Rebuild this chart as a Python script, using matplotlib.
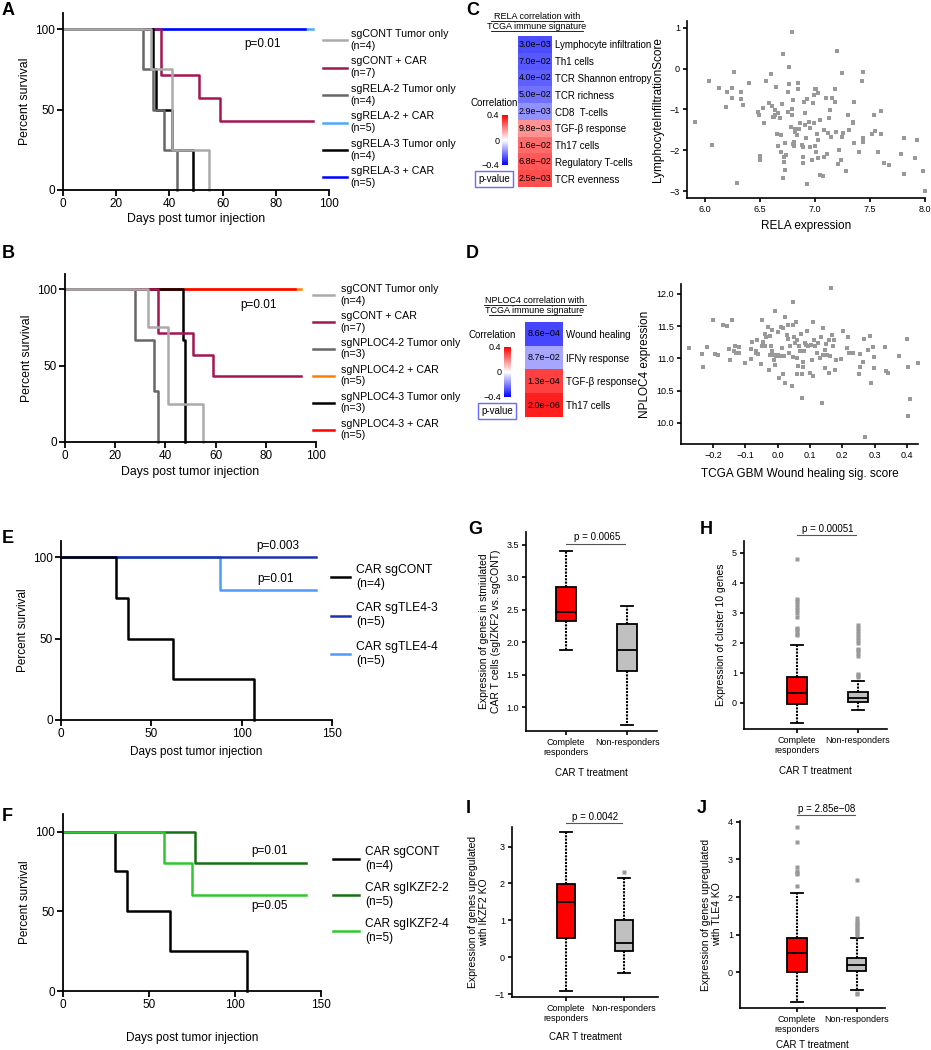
import matplotlib
matplotlib.use('Agg')
import matplotlib.pyplot as plt
from matplotlib.lines import Line2D
import numpy as np

plt.rcParams['font.family'] = ['Liberation Sans', 'DejaVu Sans']

# ---------------- survival data (days, percent survival) ----------------
A_labels = ['sgCONT Tumor only\n(n=4)', 'sgCONT + CAR\n(n=7)', 'sgRELA-2 Tumor only\n(n=4)',
            'sgRELA-2 + CAR\n(n=5)', 'sgRELA-3 Tumor only\n(n=4)', 'sgRELA-3 + CAR\n(n=5)']
A_cont_t = [0, 33, 41, 55];          A_cont_s = [100, 75, 25, 0]
A_contcar_t = [0, 37, 51, 59, 94];   A_contcar_s = [100, 71.4, 57.1, 42.9, 42.9]
A_rela2_t = [0, 30, 34, 38, 43];     A_rela2_s = [100, 75, 50, 25, 0]
A_rela2car_t = [0, 94];              A_rela2car_s = [100, 100]
A_rela3_t = [0, 34, 35, 41, 49];     A_rela3_s = [100, 75, 50, 25, 0]
A_rela3car_t = [0, 91];              A_rela3car_s = [100, 100]

B_labels = ['sgCONT Tumor only\n(n=4)', 'sgCONT + CAR\n(n=7)', 'sgNPLOC4-2 Tumor only\n(n=3)',
            'sgNPLOC4-2 + CAR\n(n=5)', 'sgNPLOC4-3 Tumor only\n(n=3)', 'sgNPLOC4-3 + CAR\n(n=5)']
B_cont_t = [0, 33, 41, 55];          B_cont_s = [100, 75, 25, 0]
B_contcar_t = [0, 37, 51, 59, 94];   B_contcar_s = [100, 71.4, 57.1, 42.9, 42.9]
B_np2_t = [0, 28, 35.5, 37];         B_np2_s = [100, 66.7, 33.3, 0]
B_np2car_t = [0, 94];                B_np2car_s = [100, 100]
B_np3_t = [0, 47, 48];               B_np3_s = [100, 66.7, 0]
B_np3car_t = [0, 91.5];              B_np3car_s = [100, 100]

E_labels = ['CAR sgCONT\n(n=4)', 'CAR sgTLE4-3\n(n=5)', 'CAR sgTLE4-4\n(n=5)']
E_cont_t = [0, 30.5, 37, 62, 107];   E_cont_s = [100, 75, 50, 25, 0]
E_tle3_t = [0, 141];                 E_tle3_s = [100, 100]
E_tle4_t = [0, 88, 141];             E_tle4_s = [100, 80, 80]

F_labels = ['CAR sgCONT\n(n=4)', 'CAR sgIKZF2-2\n(n=5)', 'CAR sgIKZF2-4\n(n=5)']
F_cont_t = [0, 30, 37, 62, 107];     F_cont_s = [100, 75, 50, 25, 0]
F_ik2_t = [0, 77, 141];              F_ik2_s = [100, 80, 80]
F_ik4_t = [0, 59, 75, 141];          F_ik4_s = [100, 80, 60, 60]

# ---------------- heatmap data ----------------
C_sigs = ['Lymphocyte infiltration', 'Th1 cells', 'TCR Shannon entropy', 'TCR richness', 'CD8  T-cells',
          'TGF-β response', 'Th17 cells', 'Regulatory T-cells', 'TCR evenness']
C_corr = [-0.28, -0.26, -0.25, -0.22, -0.17, 0.17, 0.23, 0.26, 0.28]
C_pval = ['3.0e−03', '7.0e−02', '4.0e−02', '5.0e−02', '2.9e−03', '9.8e−03', '1.6e−02', '6.8e−02', '2.5e−03']

D_sigs = ['Wound healing', 'IFNγ response', 'TGF-β response', 'Th17 cells']
D_corr = [-0.29, -0.14, 0.30, 0.35]
D_pval = ['8.6e−04', '8.7e−02', '1.3e−04', '2.0e−06']

# ---------------- scatter data ----------------
C_x = [5.91, 6.04, 6.07, 6.13, 6.20, 6.25, 6.25, 6.27, 6.19, 6.33, 6.33, 6.35, 6.29, 6.40, 6.48, 6.49, 6.50,
       6.50, 6.53, 6.54, 6.56, 6.58, 6.60, 6.61, 6.62, 6.63, 6.64, 6.64, 6.65, 6.66, 6.67, 6.68, 6.69, 6.67,
       6.70, 6.71, 6.72, 6.72, 6.73, 6.74, 6.73, 6.71, 6.69, 6.76, 6.76, 6.77, 6.77, 6.78, 6.79, 6.79, 6.79,
       6.80, 6.80, 6.81, 6.81, 6.82, 6.84, 6.85, 6.85, 6.86, 6.87, 6.88, 6.89, 6.89, 6.89, 6.90, 6.91, 6.91,
       6.92, 6.93, 6.93, 6.95, 6.96, 6.96, 6.97, 6.98, 6.99, 6.99, 7.00, 7.00, 7.01, 7.01, 7.02, 7.03, 7.03,
       7.03, 7.05, 7.05, 7.07, 7.08, 7.08, 7.10, 7.11, 7.12, 7.13, 7.14, 7.15, 7.16, 7.18, 7.18, 7.19, 7.20,
       7.21, 7.22, 7.24, 7.25, 7.25, 7.26, 7.28, 7.30, 7.31, 7.35, 7.35, 7.36, 7.36, 7.40, 7.43, 7.44, 7.44,
       7.44, 7.52, 7.54, 7.55, 7.57, 7.60, 7.60, 7.63, 7.67, 7.78, 7.81, 7.81, 7.93, 7.91, 7.98, 8.00, 6.82]
C_y = [-1.30, -0.29, -1.87, -0.48, -0.56, -0.48, -0.71, -0.09, -0.93, -0.56, -0.75, -0.89, -2.80, -0.34,
       -1.05, -1.14, -2.15, -2.23, -0.97, -1.34, -0.30, -0.83, -0.13, -0.91, -1.18, -1.19, -1.01, -1.13,
       -0.44, -1.59, -1.09, -1.20, -1.63, -1.89, -0.86, 0.36, -2.29, -2.16, -1.83, -2.12, -2.49, -2.67,
       -2.04, -0.56, -1.05, 0.04, -0.37, -1.42, 0.91, -0.99, -1.14, -0.77, -1.85, -1.90, -1.79, -1.55,
       -1.63, -0.36, -0.50, -1.49, -1.34, -1.87, -1.93, -2.16, -2.31, -0.81, -1.09, -1.38, -1.71, -2.82,
       -0.75, -1.30, -1.46, -1.92, -2.23, -0.83, -1.32, -0.64, -0.50, -1.90, -0.50, -2.04, -1.59, -0.60,
       -2.20, -1.75, -2.61, -1.26, -2.64, -2.16, -1.51, -0.72, -2.08, -1.58, -1.22, -1.01, -1.68, -0.72,
       -0.81, -0.50, -1.55, 0.43, -2.34, -1.99, -2.23, -1.68, -0.11, -1.58, -2.51, -1.14, -1.51, -1.30,
       -1.34, -0.81, -1.83, -2.04, -0.30, -0.07, -1.69, -1.79, -1.61, -1.14, -1.53, -2.04, -1.03, -1.59,
       -2.31, -2.37, -2.08, -1.71, -2.57, -1.76, -2.20, -2.52, -3.00, -1.49]

D_x = [-0.274, -0.234, -0.231, -0.218, -0.200, -0.195, -0.184, -0.169, -0.157, -0.151, -0.146, -0.140,
       -0.136, -0.131, -0.128, -0.119, -0.119, -0.102, -0.084, -0.081, -0.078, -0.068, -0.066, -0.064,
       -0.060, -0.053, -0.050, -0.047, -0.045, -0.040, -0.039, -0.035, -0.029, -0.026, -0.024, -0.024,
       -0.022, -0.019, -0.017, -0.012, -0.010, -0.009, -0.007, -0.006, 0.000, 0.000, 0.005, 0.007, 0.009,
       0.012, 0.015, 0.017, 0.019, 0.022, 0.024, 0.028, 0.031, 0.031, 0.035, 0.038, 0.043, 0.046, 0.046,
       0.048, 0.050, 0.053, 0.056, 0.059, 0.059, 0.061, 0.064, 0.067, 0.069, 0.072, 0.074, 0.074, 0.077,
       0.079, 0.081, 0.084, 0.087, 0.090, 0.095, 0.100, 0.102, 0.105, 0.108, 0.110, 0.112, 0.116, 0.121,
       0.126, 0.131, 0.134, 0.136, 0.139, 0.141, 0.147, 0.147, 0.150, 0.154, 0.158, 0.160, 0.162, 0.165,
       0.167, 0.170, 0.174, 0.178, 0.181, 0.195, 0.201, 0.215, 0.219, 0.222, 0.234, 0.253, 0.255, 0.255,
       0.263, 0.268, 0.271, 0.278, 0.285, 0.288, 0.294, 0.299, 0.299, 0.333, 0.336, 0.340, 0.374, 0.400,
       0.402, 0.403, 0.410, 0.433]
D_y = [11.16, 11.07, 10.87, 11.17, 11.59, 11.07, 11.05, 11.52, 11.51, 11.14, 10.97, 11.60, 11.12, 11.19,
       11.09, 11.18, 11.08, 10.93, 11.15, 10.99, 11.25, 11.12, 11.08, 11.29, 11.07, 10.92, 11.19, 11.59,
       11.26, 11.19, 11.38, 11.33, 11.49, 10.82, 11.06, 11.34, 11.19, 11.12, 11.44, 10.98, 11.06, 10.90,
       11.74, 11.03, 11.41, 11.06, 10.69, 11.03, 11.48, 11.16, 10.75, 11.47, 11.04, 11.65, 10.61, 11.37,
       11.52, 11.30, 11.08, 11.19, 10.57, 11.52, 11.87, 11.02, 11.33, 11.24, 11.57, 11.01, 10.76, 11.29,
       10.88, 11.19, 11.12, 11.38, 10.39, 10.76, 10.95, 10.86, 11.12, 11.24, 11.21, 11.42, 11.19, 10.78,
       11.20, 10.98, 11.56, 10.72, 11.29, 11.19, 11.08, 11.24, 11.01, 11.33, 10.30, 11.47, 11.06, 10.85,
       11.13, 11.23, 11.06, 10.78, 11.28, 11.04, 12.10, 11.37, 11.19, 11.28, 10.82, 10.98, 10.99, 11.43,
       11.16, 11.33, 11.09, 11.09, 10.76, 11.07, 10.86, 10.95, 11.30, 9.78, 11.13, 11.35, 10.61, 11.17,
       11.02, 10.85, 11.17, 10.80, 10.78, 11.03, 11.30, 10.86, 10.10, 10.37, 10.93]

# ---------------- box plot summaries ----------------
groups = ['Complete\nresponders', 'Non-responders']
G_stats = [dict(whislo=1.88, q1=2.33, med=2.47, q3=2.85, whishi=3.40, fliers=[]),
           dict(whislo=0.73, q1=1.55, med=1.88, q3=2.28, whishi=2.56, fliers=[])]
H_stats = [dict(whislo=-0.68, q1=-0.02, med=0.33, q3=0.88, whishi=1.93,
                fliers=[2.25, 2.3, 2.4, 2.45, 2.5, 2.85, 3.0, 3.1, 3.2, 3.3, 3.4, 3.45, 4.8]),
           dict(whislo=-0.23, q1=0.03, med=0.18, q3=0.35, whishi=0.73,
                fliers=[0.88, 0.92, 0.95, 1.55, 1.65, 1.75, 1.8, 2.0, 2.1, 2.2, 2.3, 2.4, 2.5, 2.6])]
I_stats = [dict(whislo=-0.93, q1=0.52, med=1.50, q3=1.98, whishi=3.40, fliers=[]),
           dict(whislo=-0.43, q1=0.17, med=0.38, q3=1.00, whishi=2.15, fliers=[2.3])]
J_stats = [dict(whislo=-0.80, q1=0.02, med=0.50, q3=0.92, whishi=2.10,
                fliers=[2.3, 2.6, 2.65, 2.7, 2.8, 3.45, 3.85]),
           dict(whislo=-0.48, q1=0.03, med=0.20, q3=0.38, whishi=0.90,
                fliers=[1.0, 1.05, 1.1, 1.15, 1.2, 1.25, 1.3, 1.35, 1.45, 2.45, -0.55, -0.58])]

W, H = 931, 1050
fig = plt.figure(figsize=(W / 100, H / 100), dpi=100)


def fx(x):
    return x / W


def fy(y):
    return 1 - y / H


def add_ax(l, t, r, b):
    return fig.add_axes([l / W, 1 - b / H, (r - l) / W, (b - t) / H])


def prism(ax, lw=1.3, fs=8.5):
    ax.spines[['top', 'right']].set_visible(False)
    ax.spines['left'].set_linewidth(lw)
    ax.spines['bottom'].set_linewidth(lw)
    ax.tick_params(width=lw, length=4, labelsize=fs, pad=2)


def surv(ax, t, s, c, lab):
    ax.step(t, s, where='post', color=c, lw=1.8, clip_on=False, label=lab)


# ---------------- A ----------------
ax = add_ax(63, 13, 329, 190)
surv(ax, A_rela2car_t, A_rela2car_s, '#4fa8ff', A_labels[3])
surv(ax, A_rela3car_t, A_rela3car_s, '#0000ff', A_labels[5])
surv(ax, A_contcar_t, A_contcar_s, '#a31553', A_labels[1])
surv(ax, A_rela3_t, A_rela3_s, '#000000', A_labels[4])
surv(ax, A_rela2_t, A_rela2_s, '#666666', A_labels[2])
surv(ax, A_cont_t, A_cont_s, '#aaaaaa', A_labels[0])
ax.set_xlim(0, 100); ax.set_ylim(0, 110)
ax.set_xticks([0, 20, 40, 60, 80, 100]); ax.set_yticks([0, 50, 100])
prism(ax)
ax.set_ylabel('Percent survival', fontsize=8.8, labelpad=3)
ax.set_xlabel('Days post tumor injection', fontsize=8.8, labelpad=2)
ax.text(75, 91, 'p=0.01', fontsize=8.5, ha='center', va='center')
h, l = ax.get_legend_handles_labels()
hs = [h[l.index(x)] for x in A_labels]
fig.legend(hs, A_labels, loc='upper left', bbox_to_anchor=(fx(323), fy(29)), frameon=False, fontsize=7.7,
           handlelength=2.2, handletextpad=0.4, labelspacing=0.55, borderpad=0, borderaxespad=0)

# ---------------- B ----------------
ax = add_ax(65, 274, 316, 442)
surv(ax, B_np2car_t, B_np2car_s, '#ff8000', B_labels[3])
surv(ax, B_np3car_t, B_np3car_s, '#ff0000', B_labels[5])
surv(ax, B_np3_t, B_np3_s, '#000000', B_labels[4])
surv(ax, B_contcar_t, B_contcar_s, '#a31553', B_labels[1])
surv(ax, B_np2_t, B_np2_s, '#666666', B_labels[2])
surv(ax, B_cont_t, B_cont_s, '#aaaaaa', B_labels[0])
ax.set_xlim(0, 100); ax.set_ylim(0, 110)
ax.set_xticks([0, 20, 40, 60, 80, 100]); ax.set_yticks([0, 50, 100])
prism(ax)
ax.set_ylabel('Percent survival', fontsize=8.8, labelpad=3)
ax.set_xlabel('Days post tumor injection', fontsize=8.8, labelpad=3)
ax.text(77, 90, 'p=0.01', fontsize=8.5, ha='center', va='center')
h, l = ax.get_legend_handles_labels()
hs = [h[l.index(x)] for x in B_labels]
fig.legend(hs, B_labels, loc='upper left', bbox_to_anchor=(fx(313), fy(284)), frameon=False, fontsize=7.7,
           handlelength=2.0, handletextpad=0.6, labelspacing=0.5, borderpad=0, borderaxespad=0)

# ---------------- E ----------------
ax = add_ax(61, 541, 332, 720)
surv(ax, E_tle4_t, E_tle4_s, '#4d9bff', E_labels[2])
surv(ax, E_tle3_t, E_tle3_s, '#1f32a8', E_labels[1])
surv(ax, E_cont_t, E_cont_s, '#000000', E_labels[0])
ax.set_xlim(0, 150); ax.set_ylim(0, 110)
ax.set_xticks([0, 50, 100, 150]); ax.set_yticks([0, 50, 100])
prism(ax)
ax.set_ylabel('Percent survival', fontsize=8.5, labelpad=3)
ax.set_xlabel('Days post tumor injection', fontsize=8.5, labelpad=4)
ax.text(120, 107, 'p=0.003', fontsize=8.5, ha='center', va='center')
ax.text(119, 86.5, 'p=0.01', fontsize=8.5, ha='center', va='center')
h, l = ax.get_legend_handles_labels()
hs = [h[l.index(x)] for x in E_labels]
fig.legend(hs, E_labels, loc='upper left', bbox_to_anchor=(fx(331), fy(564)), frameon=False, fontsize=8.7,
           handlelength=1.6, handletextpad=0.5, labelspacing=1.05, borderpad=0, borderaxespad=0)

# ---------------- F ----------------
ax = add_ax(63, 814, 321, 991)
surv(ax, F_cont_t, F_cont_s, '#000000', F_labels[0])
surv(ax, F_ik2_t, F_ik2_s, '#157015', F_labels[1])
surv(ax, F_ik4_t, F_ik4_s, '#2ec82e', F_labels[2])
ax.set_xlim(0, 150); ax.set_ylim(0, 111)
ax.set_xticks([0, 50, 100, 150]); ax.set_yticks([0, 50, 100])
prism(ax)
ax.set_ylabel('Percent survival', fontsize=8.5, labelpad=3)
ax.set_xlabel('Days post tumor injection', fontsize=8.5, labelpad=15)
ax.text(120, 87.5, 'p=0.01', fontsize=8.5, ha='center', va='center')
ax.text(120, 53, 'p=0.05', fontsize=8.5, ha='center', va='center')
h, l = ax.get_legend_handles_labels()
hs = [h[l.index(x)] for x in F_labels]
fig.legend(hs, F_labels, loc='upper left', bbox_to_anchor=(fx(333), fy(846)), frameon=False, fontsize=8.6,
           handlelength=2.2, handletextpad=0.5, labelspacing=0.85, borderpad=0, borderaxespad=0)


# ---------------- heatmaps C / D ----------------
def heat(box, corr, pvals, sigs, cbox, clabel_xy, pbox_xy, title_xy, title, fs=6.5):
    ax = add_ax(*box)
    im = ax.imshow(np.array(corr)[:, None], cmap='bwr', vmin=-0.4, vmax=0.4, aspect='auto')
    for i, p in enumerate(pvals):
        ax.text(0, i, p, ha='center', va='center', fontsize=fs)
    ax.set_xticks([])
    ax.set_yticks(range(len(sigs)))
    ax.set_yticklabels(sigs)
    ax.yaxis.tick_right()
    ax.tick_params(length=0, pad=2, labelsize=fs + 0.5)
    for s in ax.spines.values():
        s.set_visible(False)
    cax = add_ax(*cbox)
    cb = fig.colorbar(im, cax=cax, ticks=[-0.4, 0, 0.4])
    cb.outline.set_visible(False)
    cax.yaxis.set_ticks_position('left')
    cax.set_yticklabels(['−0.4', '0', '0.4'])
    cax.tick_params(length=0, labelsize=fs, pad=2)
    fig.text(fx(clabel_xy[0]), fy(clabel_xy[1]), 'Correlation', fontsize=fs + 0.5, ha='center', va='center')
    fig.text(fx(pbox_xy[0]), fy(pbox_xy[1]), 'p-value', fontsize=fs + 0.5, ha='center', va='center',
             bbox=dict(boxstyle='square,pad=0.3', fc='white', ec='#6a6aff', lw=1))
    for k, line in enumerate(title):
        ty = title_xy[1] + k * 10
        fig.text(fx(title_xy[0]), fy(ty), line, fontsize=fs, ha='center', va='center')
        half = len(line) * 2.2
        fig.add_artist(Line2D([fx(title_xy[0] - half), fx(title_xy[0] + half)], [fy(ty + 4.5), fy(ty + 4.5)],
                              color='black', lw=0.6))


heat((518, 36, 552, 187), C_corr, C_pval, C_sigs, (502, 115, 508, 165), (494, 103), (494, 179),
     (537, 16.5), ['RELA correlation with', 'TCGA immune signature'])
heat((525, 322, 563, 417), D_corr, D_pval, D_sigs, (504, 347, 511, 397), (492, 335), (497, 411),
     (535, 300.5), ['NPLOC4 correlation with', 'TCGA immune signature'])

# ---------------- scatter C ----------------
ax = add_ax(687, 21, 925, 198)
ax.scatter(C_x, C_y, marker='s', s=5, color='#999999', linewidths=0, clip_on=False)
ax.set_xlim(5.84, 8.0); ax.set_ylim(-3.17, 1.17)
ax.set_xticks([6.0, 6.5, 7.0, 7.5, 8.0]); ax.set_yticks([-3, -2, -1, 0, 1])
prism(ax, lw=1.2, fs=6.5)
ax.tick_params(length=3)
ax.set_xlabel('RELA expression', fontsize=8.5, labelpad=4)
ax.set_ylabel('LymphocyteInfiltrationScore', fontsize=8.5, labelpad=4)

# ---------------- scatter D ----------------
ax = add_ax(681, 284, 918, 444)
ax.scatter(D_x, D_y, marker='s', s=5, color='#999999', linewidths=0, clip_on=False)
ax.set_xlim(-0.299, 0.434); ax.set_ylim(9.67, 12.155)
ax.set_xticks([-0.2, -0.1, 0.0, 0.1, 0.2, 0.3, 0.4]); ax.set_yticks([10.0, 10.5, 11.0, 11.5, 12.0])
ax.set_xticklabels(['−0.2', '−0.1', '0.0', '0.1', '0.2', '0.3', '0.4'])
prism(ax, lw=1.2, fs=6.5)
ax.tick_params(length=3)
ax.set_xlabel('TCGA GBM Wound healing sig. score', fontsize=8.5, labelpad=6)
ax.set_ylabel('NPLOC4 expression', fontsize=8.5, labelpad=4)


# ---------------- box plots ----------------
def boxes(box, stats, xlim, ylim, yticks, ylabel, pline_y, ptext, ptext_y, xpad=8, fs=6.5):
    ax = add_ax(*box)
    bp = ax.bxp(stats, positions=[1, 2], widths=0.32, patch_artist=True, capwidths=0.2,
                boxprops=dict(lw=1.3, edgecolor='black'), medianprops=dict(color='black', lw=1.3),
                whiskerprops=dict(lw=1.5, color='black', linestyle=(0, (1, 0.6))),
                capprops=dict(lw=1.3, color='black'),
                flierprops=dict(marker='s', markersize=2.2, markerfacecolor='#999999',
                                markeredgecolor='none', linestyle='none'))
    bp['boxes'][0].set_facecolor('#ff0000')
    bp['boxes'][1].set_facecolor('#c0c0c0')
    ax.set_xlim(*xlim); ax.set_ylim(*ylim)
    ax.set_yticks(yticks)
    ax.set_xticks([1, 2])
    ax.set_xticklabels(groups, fontsize=fs + 0.5)
    prism(ax, lw=1.2, fs=fs)
    ax.tick_params(length=3)
    ax.set_xlabel('CAR T treatment', fontsize=fs + 0.5, labelpad=xpad)
    ax.set_ylabel(ylabel, fontsize=7.5, labelpad=4)
    ax.plot([1, 1.97], [pline_y, pline_y], color='#555555', lw=0.8, clip_on=False)
    ax.text(1.5, ptext_y, ptext, fontsize=fs + 0.5, ha='center', va='bottom')
    return ax


boxes((526, 532, 657, 731), G_stats, (0.34, 2.49), (0.63, 3.70), [1.0, 1.5, 2.0, 2.5, 3.0, 3.5],
      'Expression of genes in stmiulated\nCAR T cells (sgIZKF2 vs. sgCONT)', 3.52, 'p = 0.0065', 3.54)
boxes((744, 541, 887, 729), H_stats, (0.13, 2.48), (-0.87, 5.4), [0, 1, 2, 3, 4, 5],
      'Expression of cluster 10 genes', 5.6, 'p = 0.00051', 5.63)
boxes((512, 827, 658, 997), I_stats, (0.07, 2.59), (-1.08, 3.53), [-1, 0, 1, 2, 3],
      'Expression of genes upregulated\nwith IKZF2 KO', 3.63, 'p = 0.0042', 3.66, xpad=6)
boxes((740, 821, 885, 1008), J_stats, (0.05, 2.47), (-0.95, 4.02), [0, 1, 2, 3, 4],
      'Expression of genes upregulated\nwith TLE4 KO', 4.18, 'p = 2.85e−08', 4.21, xpad=4)

# ---------------- panel letters ----------------
for let, x, y in [('A', 2, 2), ('B', 2, 245), ('C', 466, 2), ('D', 466, 245), ('E', 2, 530),
                  ('F', 2, 808), ('G', 468, 521), ('H', 700, 521), ('I', 466, 800), ('J', 697, 800)]:
    fig.text(fx(x), fy(y), let, fontsize=13, fontweight='bold', ha='left', va='top')

fig.savefig('out.png', dpi=100)
